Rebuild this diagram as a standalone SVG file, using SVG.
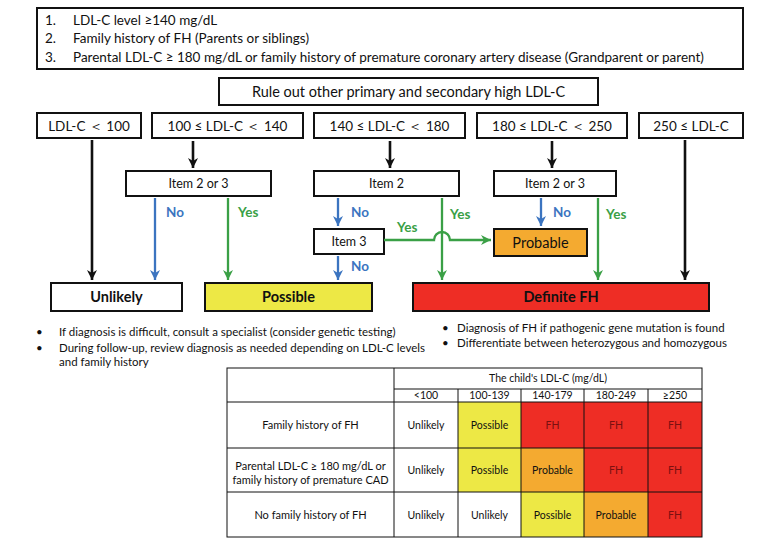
<svg xmlns="http://www.w3.org/2000/svg" width="780" height="545" viewBox="0 0 780 545">
<defs>
<style>
text{font-family:Lato,"Open Sans","Liberation Sans",sans-serif;fill:#111}
.box{fill:#fff;stroke:#111;stroke-width:2}
.t13{font-size:13.5px}
.t14{font-size:14.5px}
.t12{font-size:12.5px}
.lab{font-size:13.5px;font-weight:bold}
.big{font-size:14.5px;font-weight:bold;text-anchor:middle}
.mid{text-anchor:middle}
.note{font-size:11.5px}
.tb{font-size:10.5px;text-anchor:middle}
.fh{fill:#7A1010}
.blk{stroke:#111;stroke-width:2.6;fill:none}
.blu{stroke:#3B74C0;stroke-width:2.3;fill:none}
.grn{stroke:#3AA046;stroke-width:2.3;fill:none}
.grid{stroke:#111;stroke-width:1;fill:none}
</style>
<marker id="ab" markerUnits="userSpaceOnUse" markerWidth="12" markerHeight="12" viewBox="0 0 12 12" refX="10" refY="6" orient="auto"><path d="M0,1 L10,6 L0,11 L3,6 Z" fill="#111"/></marker>
<marker id="au" markerUnits="userSpaceOnUse" markerWidth="12" markerHeight="12" viewBox="0 0 12 12" refX="10" refY="6" orient="auto"><path d="M0,1 L10,6 L0,11 L3,6 Z" fill="#3B74C0"/></marker>
<marker id="ag" markerUnits="userSpaceOnUse" markerWidth="12" markerHeight="12" viewBox="0 0 12 12" refX="10" refY="6" orient="auto"><path d="M0,1 L10,6 L0,11 L3,6 Z" fill="#3AA046"/></marker>
</defs>
<rect width="780" height="545" fill="#fff"/>

<g id="criteria">
<rect class="box" x="37" y="8" width="706" height="61"/>
<text class="t13" x="45" y="25">1.</text><text class="t13" x="73" y="25">LDL-C level ≥140 mg/dL</text>
<text class="t13" x="45" y="43">2.</text><text class="t13" x="73" y="43">Family history of FH (Parents or siblings)</text>
<text class="t13" x="45" y="62">3.</text><text class="t13" x="73" y="62">Parental LDL-C ≥ 180 mg/dL or family history of premature coronary artery disease (Grandparent or parent)</text>
</g>

<g id="ruleout">
<rect class="box" x="219" y="78" width="379" height="27"/>
<text class="t14 mid" x="408.5" y="97">Rule out other primary and secondary high LDL-C</text>
</g>

<g id="r1"><rect class="box" x="37" y="113" width="104" height="25"/><text class="t13 mid" x="89" y="130.5">LDL-C ＜ 100</text></g>
<g id="r2"><rect class="box" x="152" y="113" width="151" height="25"/><text class="t13 mid" x="227.5" y="130.5">100 ≤ LDL-C ＜ 140</text></g>
<g id="r3"><rect class="box" x="314" y="113" width="151" height="25"/><text class="t13 mid" x="389.5" y="130.5">140 ≤ LDL-C ＜ 180</text></g>
<g id="r4"><rect class="box" x="477" y="113" width="150" height="25"/><text class="t13 mid" x="552" y="130.5">180 ≤ LDL-C ＜ 250</text></g>
<g id="r5"><rect class="box" x="639" y="113" width="104" height="25"/><text class="t13 mid" x="691" y="130.5">250 ≤ LDL-C</text></g>

<g id="q1"><rect class="box" x="126" y="171" width="145" height="25"/><text class="t12 mid" x="198.5" y="188">Item 2 or 3</text></g>
<g id="q2"><rect class="box" x="314" y="171" width="145" height="25"/><text class="t12 mid" x="386.5" y="188">Item 2</text></g>
<g id="q3"><rect class="box" x="494" y="171" width="122" height="25"/><text class="t12 mid" x="555" y="188">Item 2 or 3</text></g>
<g id="q4"><rect class="box" x="314" y="229" width="70" height="25"/><text class="t12 mid" x="349" y="246">Item 3</text></g>

<g id="probable"><rect x="494" y="229" width="93" height="27" fill="#F4AA30" stroke="#111" stroke-width="2"/><text class="t14 mid" x="540.5" y="247.5">Probable</text></g>

<g id="unlikely"><rect class="box" x="51" y="283" width="131" height="28"/><text class="big" x="116.5" y="302">Unlikely</text></g>
<g id="possible"><rect x="205" y="283" width="167" height="28" fill="#EDE845" stroke="#111" stroke-width="2"/><text class="big" x="288.5" y="302">Possible</text></g>
<g id="definite"><rect x="413" y="283" width="296" height="28" fill="#EE2D25" stroke="#111" stroke-width="2"/><text class="big" x="561" y="302">Definite FH</text></g>

<g id="connectors">
<line class="blk" x1="92" y1="140" x2="92" y2="280" marker-end="url(#ab)"/>
<line class="blk" x1="193" y1="141" x2="193" y2="168" marker-end="url(#ab)"/>
<line class="blk" x1="390" y1="141" x2="390" y2="168" marker-end="url(#ab)"/>
<line class="blk" x1="552" y1="141" x2="552" y2="168" marker-end="url(#ab)"/>
<line class="blk" x1="685" y1="140" x2="685" y2="280" marker-end="url(#ab)"/>
<line class="blu" x1="155" y1="198" x2="155" y2="280" marker-end="url(#au)"/>
<line class="grn" x1="228" y1="198" x2="228" y2="280" marker-end="url(#ag)"/>
<line class="blu" x1="338" y1="198" x2="338" y2="226" marker-end="url(#au)"/>
<line class="blu" x1="338" y1="256" x2="338" y2="280" marker-end="url(#au)"/>
<line class="grn" x1="442" y1="198" x2="442" y2="280" marker-end="url(#ag)"/>
<path class="grn" d="M384,240 H434 A8,8 0 0 1 450,240 H491" marker-end="url(#ag)"/>
<line class="blu" x1="541" y1="198" x2="541" y2="226" marker-end="url(#au)"/>
<line class="grn" x1="598" y1="198" x2="598" y2="280" marker-end="url(#ag)"/>
<text class="lab" x="166" y="217" style="fill:#3B74C0">No</text>
<text class="lab" x="238" y="217" style="fill:#3AA046">Yes</text>
<text class="lab" x="351" y="217" style="fill:#3B74C0">No</text>
<text class="lab" x="351" y="271" style="fill:#3B74C0">No</text>
<text class="lab" x="397" y="232" style="fill:#3AA046">Yes</text>
<text class="lab" x="450" y="219" style="fill:#3AA046">Yes</text>
<text class="lab" x="553" y="217" style="fill:#3B74C0">No</text>
<text class="lab" x="606" y="219" style="fill:#3AA046">Yes</text>
</g>

<g id="notes-left">
<text class="note" x="36" y="336">•</text><text class="note" x="59" y="336">If diagnosis is difficult, consult a specialist (consider genetic testing)</text>
<text class="note" x="36" y="352">•</text><text class="note" x="59" y="352">During follow-up, review diagnosis as needed depending on LDL-C levels</text>
<text class="note" x="59" y="366">and family history</text>
</g>
<g id="notes-right">
<text class="note" x="442" y="332">•</text><text class="note" x="457" y="332">Diagnosis of FH if pathogenic gene mutation is found</text>
<text class="note" x="442" y="347">•</text><text class="note" x="457" y="347">Differentiate between heterozygous and homozygous</text>
</g>

<g id="table">
<rect x="458" y="402" width="63" height="46" fill="#EDE845"/>
<rect x="521" y="402" width="181" height="46" fill="#EE2D25"/>
<rect x="458" y="448" width="63" height="44" fill="#EDE845"/>
<rect x="521" y="448" width="63" height="44" fill="#F4AA30"/>
<rect x="584" y="448" width="118" height="44" fill="#EE2D25"/>
<rect x="521" y="492" width="63" height="45" fill="#EDE845"/>
<rect x="584" y="492" width="64" height="45" fill="#F4AA30"/>
<rect x="648" y="492" width="54" height="45" fill="#EE2D25"/>
<rect class="grid" x="227" y="368" width="475" height="169" stroke-width="1.5"/>
<line class="grid" x1="394" y1="368" x2="394" y2="537"/>
<line class="grid" x1="394" y1="389" x2="702" y2="389"/>
<line class="grid" x1="227" y1="402" x2="702" y2="402" stroke-width="1.5"/>
<line class="grid" x1="227" y1="448" x2="702" y2="448"/>
<line class="grid" x1="227" y1="492" x2="702" y2="492"/>
<line class="grid" x1="458" y1="389" x2="458" y2="537"/>
<line class="grid" x1="521" y1="389" x2="521" y2="537"/>
<line class="grid" x1="584" y1="389" x2="584" y2="537"/>
<line class="grid" x1="648" y1="389" x2="648" y2="537"/>
<text class="tb" x="548" y="382">The child's LDL-C (mg/dL)</text>
<text class="tb" x="426" y="399">&lt;100</text>
<text class="tb" x="489.5" y="399">100-139</text>
<text class="tb" x="552.5" y="399">140-179</text>
<text class="tb" x="616" y="399">180-249</text>
<text class="tb" x="675" y="399">≥250</text>
<text class="tb" x="310.5" y="429" style="font-size:11px">Family history of FH</text>
<text class="tb" x="310.5" y="470" style="font-size:11px">Parental LDL-C ≥ 180 mg/dL or</text>
<text class="tb" x="310.5" y="484" style="font-size:11px">family history of premature CAD</text>
<text class="tb" x="310.5" y="519" style="font-size:11px">No family history of FH</text>
<text class="tb" x="426" y="429">Unlikely</text>
<text class="tb" x="489.5" y="429">Possible</text>
<text class="tb fh" x="552.5" y="429">FH</text>
<text class="tb fh" x="616" y="429">FH</text>
<text class="tb fh" x="675" y="429">FH</text>
<text class="tb" x="426" y="474">Unlikely</text>
<text class="tb" x="489.5" y="474">Possible</text>
<text class="tb" x="552.5" y="474">Probable</text>
<text class="tb fh" x="616" y="474">FH</text>
<text class="tb fh" x="675" y="474">FH</text>
<text class="tb" x="426" y="519">Unlikely</text>
<text class="tb" x="489.5" y="519">Unlikely</text>
<text class="tb" x="552.5" y="519">Possible</text>
<text class="tb" x="616" y="519">Probable</text>
<text class="tb fh" x="675" y="519">FH</text>
</g>
</svg>
